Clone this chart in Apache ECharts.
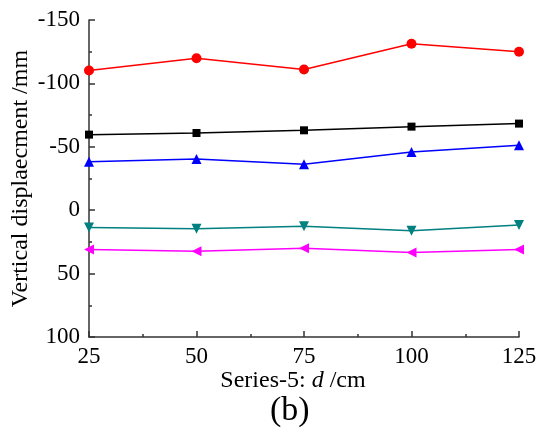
<!DOCTYPE html>
<html>
<head>
<meta charset="utf-8">
<script src="https://cdn.jsdelivr.net/npm/echarts@6/dist/echarts.min.js"></script>
<style>
html,body{margin:0;padding:0;background:#fff;}
#chart{width:537px;height:436px;}
</style>
</head>
<body>
<div id="chart"></div>
<script>
var xData = [25, 50, 75, 100, 125];
var redVals = [-110.2, -119.9, -111, -131.3, -125];
var blackVals = [-59.6, -60.9, -63, -65.9, -68.3];
var blueVals = [-38.3, -40.4, -36.2, -45.9, -51.2];
var tealVals = [13.6, 14.7, 12.6, 16.3, 11.6];
var magentaVals = [31, 32.3, 30, 33.3, 31];

var font = 'Liberation Serif';

function pairs(vals){
	var out = [];
	for(var i=0;i<xData.length;i++){
		out.push([xData[i], vals[i]]);
	}
	return out;
}

function makeSeries(vals, color, symbol, rot, size){
	return {
		type: 'line',
		data: pairs(vals),
		symbol: symbol,
		symbolRotate: rot,
		symbolSize: size,
		showAllSymbol: true,
		lineStyle: {color: color, width: 1.5},
		itemStyle: {color: color},
		animation: false
	};
}

var myChart = echarts.init(document.getElementById('chart'));
var option = {
	backgroundColor: '#fff',
	title: {
		text: '(b)',
		left: 265,
		top: 389,
		textStyle: {fontFamily: font, fontSize: 34, fontWeight: 'normal', color: '#000'}
	},
	grid: {left: 89, top: 20, right: 18, bottom: 99, containLabel: false, outerBoundsMode: 'none'},
	xAxis: {
		type: 'value',
		min: 25, max: 125, interval: 25,
		name: '{a|Series-5: }{i|d}{a| /cm}',
		nameLocation: 'middle',
		nameGap: 32,
		nameMoveOverlap: false,
		nameTextStyle: {
			padding: [0, 22, 0, 0],
			rich: {
				a: {fontFamily: font, fontSize: 24, color: '#000'},
				i: {fontFamily: font, fontSize: 24, fontStyle: 'italic', color: '#000'}
			}
		},
		axisLine: {onZero: false, lineStyle: {color: '#333', width: 1.5}},
		axisTick: {inside: true, length: 6, lineStyle: {color: '#333', width: 1.5}},
		minorTick: {show: true, splitNumber: 2, length: 3, lineStyle: {color: '#333', width: 1.5}},
		axisLabel: {fontFamily: font, fontSize: 23, color: '#000', margin: 8},
		splitLine: {show: false}
	},
	yAxis: {
		type: 'value',
		inverse: true,
		min: -150, max: 100, interval: 50,
		name: 'Vertical displaecment /mm',
		nameLocation: 'middle',
		nameGap: 56,
		nameMoveOverlap: false,
		nameTextStyle: {fontFamily: font, fontSize: 24, color: '#000'},
		axisLine: {show: true, onZero: false, lineStyle: {color: '#333', width: 1.5}},
		axisTick: {show: true, inside: true, length: 6, lineStyle: {color: '#333', width: 1.5}},
		minorTick: {show: true, splitNumber: 2, length: 3, lineStyle: {color: '#333', width: 1.5}},
		axisLabel: {fontFamily: font, fontSize: 23, color: '#000', margin: 9},
		splitLine: {show: false}
	},
	series: [
		makeSeries(redVals, '#ff0000', 'circle', 0, 10),
		makeSeries(blackVals, '#000000', 'rect', 0, 8),
		makeSeries(blueVals, '#0000ff', 'triangle', 0, 10),
		makeSeries(tealVals, '#008080', 'triangle', 180, 10),
		makeSeries(magentaVals, '#ff00ff', 'triangle', 90, 10)
	]
};
myChart.setOption(option);
</script>
</body>
</html>
